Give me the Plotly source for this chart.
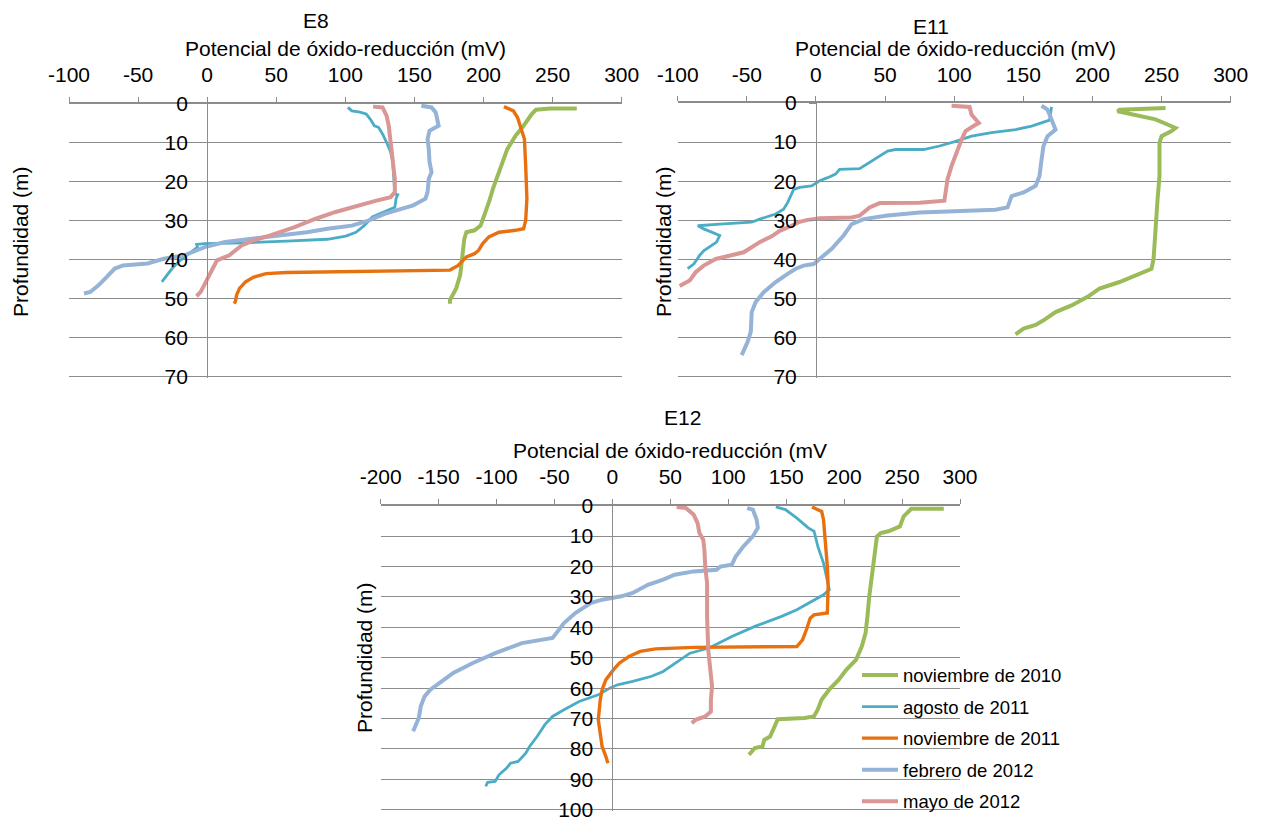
import plotly.graph_objects as go

W, H = 1266, 819

# ---- Series names and colours ----
SERIES = ["noviembre de 2010", "agosto de 2011", "noviembre de 2011",
          "febrero de 2012", "mayo de 2012"]
COLORS = ["#9BBB59", "#4BACC6", "#E8700E", "#95B3D7", "#D99694"]
WIDTHS = [4.0, 2.8, 3.4, 4.0, 4.0]

# ---- Tick values / labels ----
MV_TICKS_A = [-100, -50, 0, 50, 100, 150, 200, 250, 300]
MV_TICKS_B = [-200, -150, -100, -50, 0, 50, 100, 150, 200, 250, 300]
DEPTH_TICKS_A = [0, 10, 20, 30, 40, 50, 60, 70]
DEPTH_TICKS_B = [0, 10, 20, 30, 40, 50, 60, 70, 80, 90, 100]

# ---- E8 profiles: ORP (mV) vs depth (m) ----
e8_nov10_mv = [267.5, 248.2, 237.9, 234.9, 229.0, 223.1, 217.2, 212.7, 209.8, 206.8, 203.9,
               200.9, 197.9, 193.5, 187.6, 186.1, 184.6, 183.1, 180.2, 175.7, 175.7]
e8_nov10_z = [1.3, 1.3, 1.6, 2.7, 5.7, 8.3, 11.7, 15.9, 18.5, 21.9, 25.3,
              28.7, 31.3, 32.5, 33.0, 34.7, 39.8, 44.0, 47.4, 50.4, 51.3]

e8_ago11_mv = [101.8, 104.7, 110.6, 115.1, 118.0, 121.0, 124.0, 126.9, 129.9, 132.8, 134.3,
               135.2, 135.8, 137.9, 136.7, 135.8, 128.4, 119.5, 113.6, 107.7, 100.3, 87.0,
               57.4, 27.8, -1.8, -7.7, -7.0, -13.6, -19.5, -25.4, -32.8]
e8_ago11_z = [1.0, 1.9, 2.2, 2.7, 4.0, 5.7, 6.1, 7.8, 10.0, 12.5, 15.0,
              19.3, 23.2, 23.4, 24.4, 26.6, 27.8, 29.1, 31.3, 33.0, 34.0, 34.8,
              35.3, 35.7, 35.9, 36.1, 36.8, 38.5, 40.2, 42.3, 45.7]

e8_nov11_mv = [214.8, 221.6, 224.6, 227.5, 229.6, 230.5, 231.4, 230.5, 229.0, 223.1, 211.2,
               203.9, 199.4, 196.5, 193.5, 187.6, 181.7, 175.7, 116.6, 57.4, 42.6, 33.7,
               27.8, 23.4, 21.3, 20.4, 19.5]
e8_nov11_z = [0.8, 1.9, 3.6, 6.6, 9.1, 15.9, 24.4, 30.0, 32.1, 32.5, 33.0,
              34.2, 35.9, 37.6, 38.5, 39.3, 41.5, 42.7, 43.0, 43.3, 43.6, 44.5,
              45.7, 47.4, 49.1, 50.8, 51.3]

e8_feb12_mv = [155.0, 162.4, 165.4, 166.9, 167.5, 160.9, 159.5, 160.4, 160.9, 162.4, 160.4,
               159.5, 158.0, 149.1, 137.3, 128.4, 116.6, 104.7, 87.0, 72.2, 42.6, 13.0,
               -1.8, -16.6, -31.4, -43.2, -60.9, -66.9, -72.8, -78.7, -84.6, -89.1]
e8_feb12_z = [0.6, 1.0, 2.3, 4.4, 5.7, 7.0, 9.1, 11.7, 15.0, 17.6, 19.3,
              22.7, 24.4, 26.1, 27.4, 28.3, 30.0, 31.3, 32.1, 33.0, 34.2, 35.5,
              36.8, 38.9, 39.8, 41.0, 41.5, 42.3, 44.5, 46.6, 48.3, 48.7]

e8_may12_mv = [120.1, 126.9, 129.9, 131.4, 132.8, 134.3, 135.8, 135.8, 132.8, 122.5, 110.6,
               92.9, 78.1, 63.3, 45.6, 33.7, 24.9, 16.0, 7.1, 4.1, -0.3, -4.7, -7.7]
e8_may12_z = [0.8, 1.0, 3.2, 5.7, 10.0, 14.2, 19.3, 22.7, 24.0, 24.9, 26.1,
              27.8, 29.6, 31.7, 33.8, 35.1, 36.4, 38.9, 40.2, 42.3, 45.7, 48.3, 49.4]

# ---- E11 profiles ----
e11_nov10_mv = [252.9, 219.6, 218.2, 231.2, 245.6, 254.3, 260.1, 257.2, 250.0, 248.5, 248.5,
                247.1, 245.6, 244.2, 242.7, 236.9, 219.6, 205.1, 196.5, 184.9, 173.3, 164.6,
                158.9, 150.2, 144.4]
e11_nov10_z = [1.3, 1.7, 2.1, 3.0, 4.2, 5.5, 6.4, 7.2, 8.5, 10.2, 18.7,
               24.6, 33.1, 39.9, 42.4, 43.3, 45.8, 47.5, 49.6, 51.8, 53.5, 55.6,
               56.8, 57.7, 59.2]

e11_ago11_mv = [170.4, 169.0, 156.0, 144.4, 127.0, 112.6, 101.0, 89.4, 77.9, 57.6, 51.8,
                46.1, 40.3, 34.5, 31.6, 17.1, 14.2, 8.5, 2.7, -3.1, -11.8, -16.1,
                -17.6, -20.5, -23.4, -29.1, -40.7, -46.5, -69.6, -85.5, -81.2, -72.5,
                -69.6, -71.9, -75.4, -81.2, -84.1, -88.4, -92.8]
e11_ago11_z = [1.0, 4.4, 5.9, 6.8, 7.6, 8.5, 9.8, 11.0, 11.9, 11.9, 12.3,
               13.6, 14.8, 16.1, 16.8, 17.0, 18.2, 19.1, 19.9, 21.2, 21.6, 22.1,
               23.3, 25.5, 27.2, 28.4, 29.7, 30.5, 31.0, 31.4, 32.2, 33.5,
               33.9, 35.6, 36.5, 37.8, 39.0, 41.2, 42.4]

e11_feb12_mv = [163.2, 167.5, 170.4, 173.3, 167.5, 164.6, 163.2, 161.7, 158.9, 150.2, 141.5,
                138.6, 129.9, 103.9, 75.0, 51.8, 34.5, 25.8, 20.0, 11.4, 2.7, -1.7,
                -8.9, -14.7, -20.5, -29.1, -37.8, -43.6, -46.5, -47.1, -49.4, -53.7]
e11_feb12_z = [0.7, 1.7, 4.2, 6.8, 8.5, 11.0, 14.4, 18.7, 21.2, 22.9, 23.8,
               26.7, 27.3, 27.6, 28.0, 28.8, 29.7, 31.0, 33.9, 37.3, 39.9, 41.2,
               41.6, 42.4, 43.7, 45.8, 48.4, 50.9, 53.5, 58.5, 61.1, 64.5]

e11_may12_mv = [98.1, 111.1, 112.6, 117.8, 114.0, 108.2, 105.4, 102.5, 98.1, 95.2, 93.8,
                92.9, 75.0, 46.1, 38.8, 31.6, 25.8, 2.7, -6.0, -11.8, -17.6, -26.2,
                -32.0, -40.7, -52.3, -72.5, -81.2, -87.0, -91.3, -98.6]
e11_may12_z = [0.7, 1.0, 3.0, 5.1, 5.9, 7.2, 9.3, 11.9, 16.1, 19.5, 22.9,
               25.0, 25.5, 25.6, 26.7, 28.8, 29.3, 29.5, 29.9, 30.4, 31.4, 32.7,
               34.1, 35.6, 38.2, 39.9, 41.6, 43.3, 45.4, 46.8]

# ---- E12 profiles ----
e12_nov10_mv = [286.0, 258.0, 251.4, 248.1, 238.2, 231.6, 228.3, 226.7, 225.0, 223.4, 221.7,
                220.1, 218.5, 215.2, 210.2, 202.0, 195.4, 187.1, 180.5, 177.2, 173.9, 165.7,
                142.7, 139.4, 136.1, 131.1, 129.5, 122.9, 117.9]
e12_nov10_z = [1.0, 1.0, 3.5, 6.8, 8.4, 9.0, 10.1, 14.5, 20.0, 25.4, 29.8,
               36.4, 41.9, 46.3, 50.7, 53.9, 57.2, 60.5, 63.8, 67.1, 69.3, 69.8,
               70.2, 73.1, 75.9, 77.0, 79.2, 79.7, 81.9]

e12_ago11_mv = [141.0, 149.3, 159.2, 169.0, 174.0, 177.3, 182.2, 185.5, 187.2, 182.2, 172.3,
                159.2, 146.0, 122.9, 103.1, 83.4, 66.9, 53.7, 43.8, 33.9, 17.5, 4.3,
                -2.3, -12.2, -28.7, -41.8, -51.7, -58.3, -65.0, -71.5, -74.8, -81.4,
                -88.0, -91.3, -97.9, -101.2, -107.7, -109.4]
e12_ago11_z = [0.4, 1.3, 4.1, 7.3, 8.4, 13.4, 18.9, 24.3, 27.6, 29.3, 31.5,
               34.2, 36.4, 39.7, 43.0, 46.8, 48.5, 51.8, 54.5, 56.1, 57.8, 58.9,
               60.0, 62.2, 64.4, 67.1, 69.3, 72.0, 75.9, 79.2, 81.4, 84.1,
               84.7, 86.3, 88.5, 90.7, 91.0, 92.3]

e12_nov11_mv = [172.3, 180.6, 182.2, 183.9, 185.5, 186.2, 186.2, 185.5, 174.0, 170.7, 167.4,
                164.1, 159.2, 70.2, 37.2, 24.0, 14.2, 5.9, 1.0, -5.6, -8.9, -10.5,
                -12.2, -10.5, -8.9, -5.6, -3.9, -3.9]
e12_nov11_z = [0.4, 1.9, 4.6, 11.2, 20.0, 26.5, 30.9, 35.3, 35.9, 37.0, 40.8,
               44.1, 46.3, 46.6, 47.1, 47.9, 49.6, 51.8, 53.9, 57.2, 60.5, 63.8,
               70.4, 74.8, 79.2, 82.5, 84.1, 84.7]

e12_feb12_mv = [116.3, 121.2, 124.5, 125.5, 121.2, 113.0, 106.4, 103.1, 93.2, 89.9, 70.2,
                53.7, 43.8, 30.6, 17.5, 7.6, -8.9, -18.8, -32.0, -41.8, -48.4, -51.7,
                -78.1, -101.2, -120.9, -137.4, -147.3, -157.2, -162.1, -165.4, -167.1,
                -170.3, -172.0]
e12_feb12_z = [0.8, 1.3, 4.6, 7.3, 10.1, 13.4, 16.7, 19.4, 20.0, 21.1, 21.6,
               22.7, 24.3, 26.0, 28.7, 29.8, 30.9, 32.0, 35.3, 38.6, 41.9, 43.5,
               45.2, 48.5, 51.8, 55.0, 57.8, 60.5, 62.7, 66.0, 69.8,
               73.1, 74.2]

e12_may12_mv = [55.4, 63.6, 70.2, 73.5, 75.1, 78.4, 79.4, 80.1, 81.7, 81.7, 82.7,
                85.0, 86.0, 85.0, 85.0, 80.1, 71.8, 68.5]
e12_may12_z = [0.4, 0.8, 3.0, 5.7, 9.0, 11.2, 14.5, 20.0, 25.4, 36.4, 47.4,
               55.0, 59.4, 63.8, 67.7, 69.3, 70.4, 71.5]

# Which series appear in each panel: (series index, mV, depth)
PANELS = {
    "E8": [(0, e8_nov10_mv, e8_nov10_z), (1, e8_ago11_mv, e8_ago11_z),
           (2, e8_nov11_mv, e8_nov11_z), (3, e8_feb12_mv, e8_feb12_z),
           (4, e8_may12_mv, e8_may12_z)],
    "E11": [(0, e11_nov10_mv, e11_nov10_z), (1, e11_ago11_mv, e11_ago11_z),
            (3, e11_feb12_mv, e11_feb12_z), (4, e11_may12_mv, e11_may12_z)],
    "E12": [(0, e12_nov10_mv, e12_nov10_z), (1, e12_ago11_mv, e12_ago11_z),
            (2, e12_nov11_mv, e12_nov11_z), (3, e12_feb12_mv, e12_feb12_z),
            (4, e12_may12_mv, e12_may12_z)],
}

# ---- Panel geometry (pixels) ----
GEOM = {
    # name: (x0, x1, y_top, y_bottom, mV ticks, depth ticks, axis suffix)
    "E8": (69.0, 621.7, 103.5, 377.7, MV_TICKS_A, DEPTH_TICKS_A, ""),
    "E11": (677.7, 1230.7, 103.0, 377.7, MV_TICKS_A, DEPTH_TICKS_A, "2"),
    "E12": (380.7, 960.0, 505.7, 811.0, MV_TICKS_B, DEPTH_TICKS_B, "3"),
}

FONT = "Liberation Sans, Arial, sans-serif"
GRID = "#8c8c8c"
TICKFONT = dict(family=FONT, size=21, color="#000000")

fig = go.Figure()

for name, series in PANELS.items():
    x0, x1, yt, yb, mvt, dt, sfx = GEOM[name]
    xmin, xmax, dmax = mvt[0], mvt[-1], dt[-1]
    for idx, mv, z in series:
        fig.add_trace(go.Scatter(
            x=mv, y=z, mode="lines", name=SERIES[idx],
            legendgroup=SERIES[idx], legendrank=idx + 1,
            showlegend=(name == "E12"),
            line=dict(color=COLORS[idx], width=WIDTHS[idx]),
            xaxis="x" + sfx, yaxis="y" + sfx,
        ))

    xdom = [x0 / W, x1 / W]
    ydom = [1 - yb / H, 1 - yt / H]
    zero_pos = (x0 + (0 - xmin) / (xmax - xmin) * (x1 - x0)) / W

    fig.layout["xaxis" + sfx] = dict(
        domain=xdom, anchor="y" + sfx, side="top", range=[xmin, xmax],
        tickmode="array", tickvals=mvt, ticktext=[str(v) for v in mvt],
        showgrid=False, zeroline=False, automargin=False,
        showline=True, linecolor=GRID, linewidth=2,
        ticks="outside", ticklen=5, tickwidth=1, tickcolor=GRID,
        tickfont=TICKFONT, ticklabelstandoff=6, fixedrange=True,
        ticklabeloverflow="allow",
    )
    fig.layout["yaxis" + sfx] = dict(
        domain=ydom, anchor="free", position=zero_pos, side="left",
        range=[dmax * 1.004, 0], tickmode="array", tickvals=dt,
        ticktext=[str(v) for v in dt],
        showgrid=True, gridcolor=GRID, gridwidth=1, zeroline=False, automargin=False,
        showline=True, linecolor=GRID, linewidth=1,
        ticks="outside", ticklen=7, tickwidth=1, tickcolor=GRID,
        tickfont=TICKFONT, ticklabelstandoff=8, fixedrange=True,
        ticklabeloverflow="allow",
    )

# ---- Titles ----
def label(text, x, y, angle=0, size=21):
    fig.add_annotation(text=text, x=x / W, y=1 - y / H, xref="paper", yref="paper",
                       showarrow=False, textangle=angle, xanchor="center",
                       yanchor="middle", font=dict(family=FONT, size=size, color="#000000"))

label("E8", 316, 20)
label("Potencial de óxido-reducción (mV)", 345, 48)
label("Profundidad (m)", 20, 242, angle=-90)

label("E11", 931, 26)
label("Potencial de óxido-reducción (mV)", 955, 48)
label("Profundidad (m)", 663, 242, angle=-90)

label("E12", 682, 417)
label("Potencial de óxido-reducción (mV", 670, 450)
label("Profundidad (m)", 364, 658, angle=-90)

fig.update_layout(
    width=W, height=H,
    margin=dict(l=0, r=0, t=0, b=0, autoexpand=False),
    paper_bgcolor="white", plot_bgcolor="rgba(0,0,0,0)",
    font=dict(family=FONT, color="#000000"),
    legend=dict(
        x=857 / W, y=1 - 656.5 / H, xanchor="left", yanchor="top",
        bgcolor="rgba(0,0,0,0)", borderwidth=0, itemwidth=36,
        font=dict(family=FONT, size=18.5, color="#000000"),
        tracegroupgap=4.5, traceorder="grouped",
    ),
)

fig.write_html("out.html")
